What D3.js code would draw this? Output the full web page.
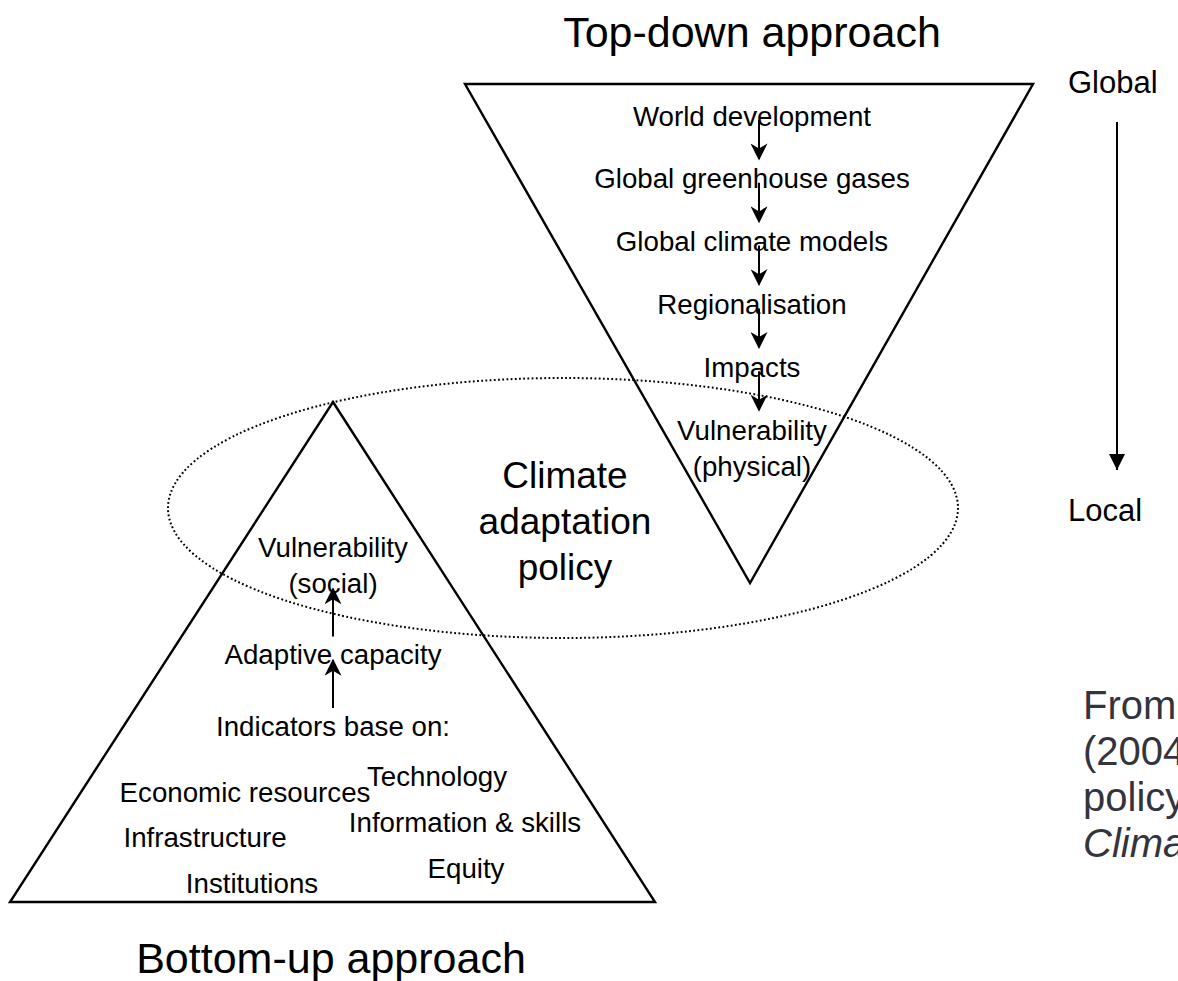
<!DOCTYPE html>
<html>
<head>
<meta charset="utf-8">
<script src="https://cdn.jsdelivr.net/npm/d3@7"></script>
<style>
  body { margin: 0; background: #fff; }
  svg { display: block; font-family: "Liberation Sans", Arial, sans-serif; }
</style>
</head>
<body>
<svg id="canvas" width="1178" height="981"></svg>
<script>
// chart content
const topDownSteps = ['World development', 'Global greenhouse gases', 'Global climate models',
                      'Regionalisation', 'Impacts', 'Vulnerability|(physical)'];
const bottomUpSteps = ['Indicators base on:', 'Adaptive capacity', 'Vulnerability|(social)'];
const indicatorsLeft = ['Economic resources', 'Infrastructure', 'Institutions'];
const indicatorsRight = ['Technology', 'Information & skills', 'Equity'];
const policyLines = ['Climate', 'adaptation', 'policy'];
const scaleLabels = ['Global', 'Local'];
const sourceLines = ['From Dessai and Hulme', '(2004) Does climate adaptation', 'policy need probabilities?', 'Climate Policy'];

const svg = d3.select('#canvas');

// arrow heads
const defs = svg.append('defs');
defs.append('marker')
    .attr('id', 'stealth')
    .attr('viewBox', '0 0 10 10')
    .attr('refX', 9).attr('refY', 5)
    .attr('markerUnits', 'userSpaceOnUse')
    .attr('markerWidth', 20).attr('markerHeight', 17)
    .attr('orient', 'auto')
    .append('path')
    .attr('d', 'M0,0 L10,5 L0,10 L3,5 z')
    .attr('fill', '#000');
defs.append('marker')
    .attr('id', 'tri')
    .attr('viewBox', '0 0 10 10')
    .attr('refX', 10).attr('refY', 5)
    .attr('markerUnits', 'userSpaceOnUse')
    .attr('markerWidth', 22).attr('markerHeight', 16)
    .attr('orient', 'auto')
    .append('path')
    .attr('d', 'M0,0 L10,5 L0,10 z')
    .attr('fill', '#000');

// dotted ellipse
svg.append('ellipse')
    .attr('cx', 563).attr('cy', 508)
    .attr('rx', 395).attr('ry', 130)
    .attr('fill', 'none')
    .attr('stroke', '#000')
    .attr('stroke-width', 2)
    .attr('stroke-dasharray', '1.8,2.4');

// triangles
const line = d3.line();
svg.append('path')
    .attr('d', line([[465, 84], [1033, 84], [750, 583]]) + 'Z')
    .attr('fill', 'none').attr('stroke', '#000').attr('stroke-width', 2.4);
svg.append('path')
    .attr('d', line([[333, 402], [655, 902], [10, 902]]) + 'Z')
    .attr('fill', 'none').attr('stroke', '#000').attr('stroke-width', 2.4);

// top-down chain
const topY = d3.scalePoint().domain(topDownSteps).range([116, 430]);
const topX = 752, topArrowX = 759;
const labelSize = 27.7;

const topG = svg.append('g').attr('font-size', labelSize).attr('text-anchor', 'middle');
topDownSteps.forEach(step => {
    step.split('|').forEach((part, i) => {
        topG.append('text')
            .attr('x', topX).attr('y', topY(step) + i * 36)
            .attr('dy', '0.35em')
            .text(part);
    });
});
d3.pairs(topDownSteps).forEach(([a, b]) => {
    svg.append('line')
        .attr('x1', topArrowX).attr('x2', topArrowX)
        .attr('y1', topY(a) + 4).attr('y2', topY(b) - 20)
        .attr('stroke', '#000').attr('stroke-width', 2)
        .attr('marker-end', 'url(#stealth)');
});

// bottom-up chain
const botY = d3.scalePoint().domain(bottomUpSteps).range([726, 583]);
const botX = 333;
const botG = svg.append('g').attr('font-size', labelSize).attr('text-anchor', 'middle');
bottomUpSteps.forEach(step => {
    const parts = step.split('|');
    parts.forEach((part, i) => {
        botG.append('text')
            .attr('x', botX).attr('y', botY(step) - (parts.length - 1 - i) * 36)
            .attr('dy', '0.35em')
            .text(part);
    });
});
d3.pairs(bottomUpSteps).forEach(([a, b]) => {
    svg.append('line')
        .attr('x1', botX).attr('x2', botX)
        .attr('y1', botY(a) - 18).attr('y2', botY(b) + 6)
        .attr('stroke', '#000').attr('stroke-width', 2)
        .attr('marker-end', 'url(#stealth)');
});

// indicator list, two staggered columns
const leftRow = d3.scalePoint().domain(indicatorsLeft).range([792, 883]);
const rightRow = d3.scalePoint().domain(indicatorsRight).range([776, 868]);
const leftX = [245, 205, 252];
const rightX = [437, 465, 466];
indicatorsLeft.forEach((d, i) => {
    botG.append('text').attr('x', leftX[i]).attr('y', leftRow(d)).attr('dy', '0.35em').text(d);
});
indicatorsRight.forEach((d, i) => {
    botG.append('text').attr('x', rightX[i]).attr('y', rightRow(d)).attr('dy', '0.35em').text(d);
});

// titles
svg.append('text').attr('x', 752).attr('y', 32).attr('dy', '0.35em')
    .attr('text-anchor', 'middle').attr('font-size', 43).text('Top-down approach');
svg.append('text').attr('x', 331).attr('y', 958).attr('dy', '0.35em')
    .attr('text-anchor', 'middle').attr('font-size', 43).text('Bottom-up approach');

// policy label in the ellipse
const policyY = d3.scalePoint().domain(policyLines).range([475, 567]);
policyLines.forEach(d => {
    svg.append('text').attr('x', 565).attr('y', policyY(d)).attr('dy', '0.35em')
        .attr('text-anchor', 'middle').attr('font-size', 37).text(d);
});

// global -> local scale
const scaleY = d3.scalePoint().domain(scaleLabels).range([82, 510]);
scaleLabels.forEach(d => {
    svg.append('text').attr('x', 1068).attr('y', scaleY(d)).attr('dy', '0.35em')
        .attr('font-size', 31).text(d);
});
svg.append('line')
    .attr('x1', 1117).attr('x2', 1117)
    .attr('y1', scaleY('Global') + 40).attr('y2', scaleY('Local') - 40)
    .attr('stroke', '#000').attr('stroke-width', 2)
    .attr('marker-end', 'url(#tri)');

// source note (runs off the right edge)
const srcY = d3.scalePoint().domain(sourceLines).range([705, 843]);
sourceLines.forEach((d, i) => {
    svg.append('text').attr('x', 1083).attr('y', srcY(d)).attr('dy', '0.35em')
        .attr('font-size', 40).attr('fill', '#34343f')
        .attr('font-style', i === sourceLines.length - 1 ? 'italic' : 'normal')
        .text(d);
});
</script>
</body>
</html>
